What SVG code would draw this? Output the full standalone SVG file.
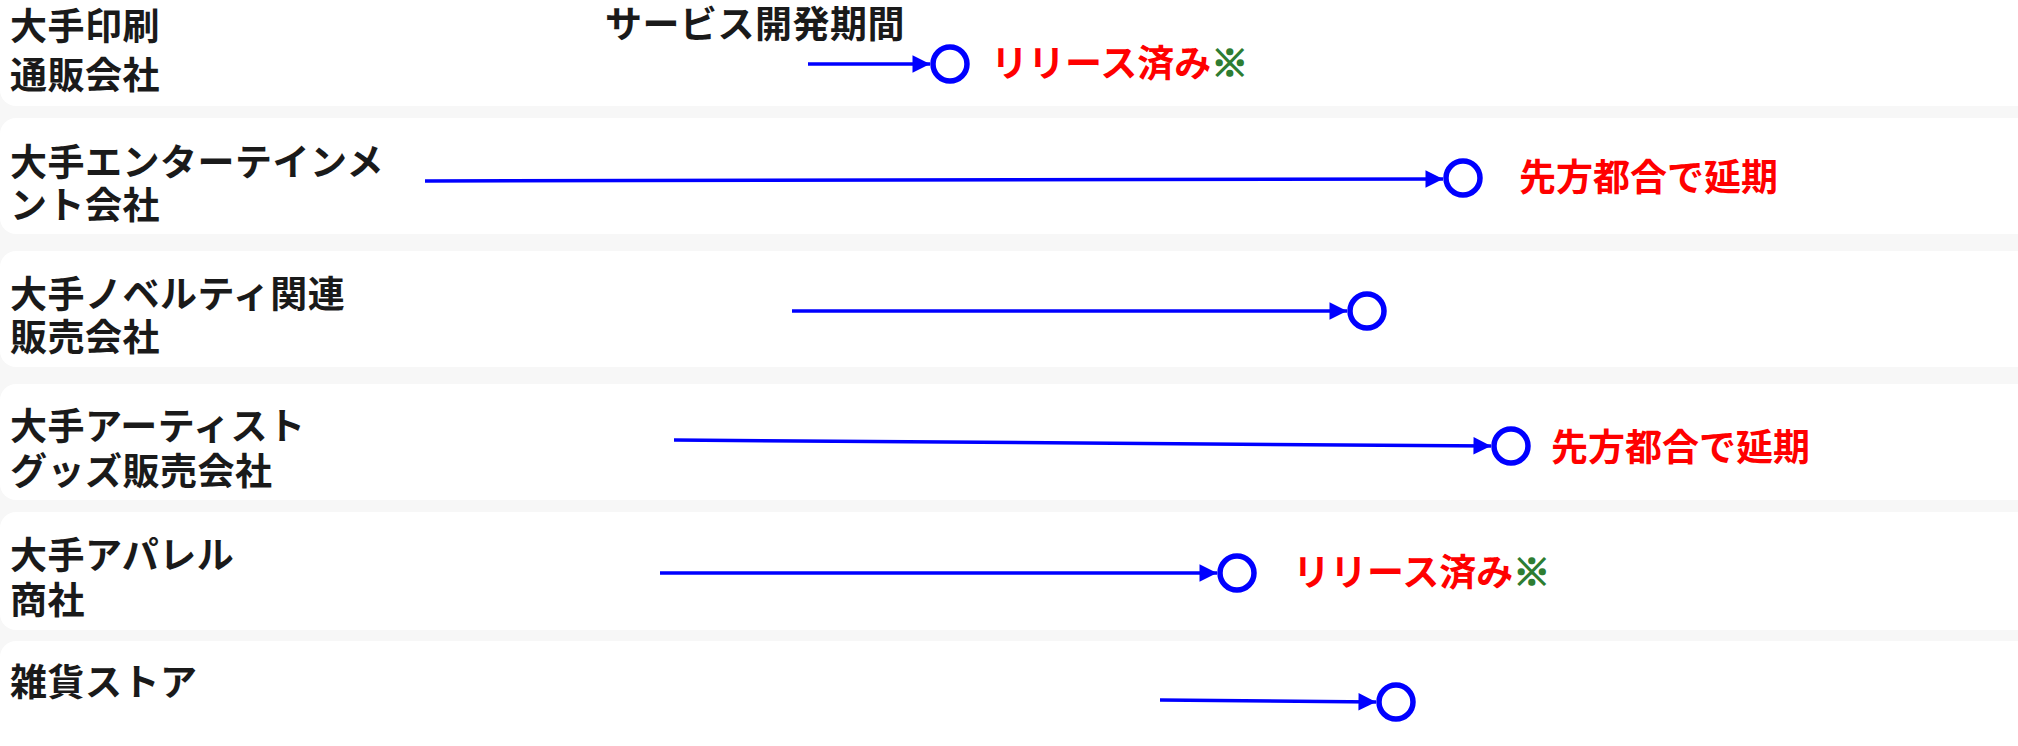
<svg xmlns="http://www.w3.org/2000/svg" width="2018" height="746" viewBox="0 0 2018 746">
<style>
.row{fill:#ffffff}
.lbl{font-family:"Noto Sans CJK JP","Noto Sans",sans-serif;font-weight:bold;font-size:37px;fill:#1a1a1a;letter-spacing:0.5px}
.red{font-family:"Noto Sans CJK JP","Noto Sans",sans-serif;font-weight:bold;font-size:37px;fill:#ff0000}
.grn{fill:#2e7d32;stroke:#2e7d32;stroke-width:1.6}
.ln{stroke:#0000ff;stroke-width:3.5;fill:none}
.ms{stroke:#0000ff;stroke-width:5.5;fill:#ffffff}
</style>
<defs>
<marker id="ah" viewBox="0 0 10 10" refX="10" refY="5" markerWidth="5.5" markerHeight="5" markerUnits="strokeWidth" orient="auto">
<path d="M0,0 L10,5 L0,10 z" fill="#0000ff"/>
</marker>
</defs>
<rect x="0" y="0" width="2018" height="746" fill="#f7f7f7"/>
<g id="row1"><rect class="row" x="0" y="-20" width="2040" height="126" rx="16"/>
<text class="lbl" x="10" y="40">大手印刷</text><text class="lbl" x="10" y="89">通販会社</text></g>
<g id="row2"><rect class="row" x="0" y="118" width="2040" height="116" rx="16"/>
<text class="lbl" x="10" y="176">大手エンターテインメ</text><text class="lbl" x="10" y="219">ント会社</text></g>
<g id="row3"><rect class="row" x="0" y="251" width="2040" height="116" rx="16"/>
<text class="lbl" x="10" y="308">大手ノベルティ関連</text><text class="lbl" x="10" y="351">販売会社</text></g>
<g id="row4"><rect class="row" x="0" y="384" width="2040" height="116" rx="16"/>
<text class="lbl" x="10" y="440">大手アーティスト</text><text class="lbl" x="10" y="485">グッズ販売会社</text></g>
<g id="row5"><rect class="row" x="0" y="512" width="2040" height="118" rx="16"/>
<text class="lbl" x="10" y="569">大手アパレル</text><text class="lbl" x="10" y="614">商社</text></g>
<g id="row6"><rect class="row" x="0" y="641" width="2040" height="125" rx="16"/>
<text class="lbl" x="10" y="696">雑貨ストア</text></g>
<g id="header"><text class="lbl" x="605" y="38">サービス開発期間</text></g>
<g id="connectors">
<line class="ln" x1="808" y1="64" x2="930" y2="64" marker-end="url(#ah)"/>
<line class="ln" x1="425" y1="181" x2="1443" y2="179" marker-end="url(#ah)"/>
<line class="ln" x1="792" y1="311" x2="1347" y2="311" marker-end="url(#ah)"/>
<line class="ln" x1="674" y1="440" x2="1491" y2="446" marker-end="url(#ah)"/>
<line class="ln" x1="660" y1="573" x2="1217" y2="573" marker-end="url(#ah)"/>
<line class="ln" x1="1160" y1="700" x2="1376" y2="702" marker-end="url(#ah)"/>
</g>
<g id="m1"><circle class="ms" cx="950" cy="64" r="17"/><text class="red" x="991" y="77">リリース済み<tspan class="grn">※</tspan></text></g>
<g id="m2"><circle class="ms" cx="1463" cy="178" r="17"/><text class="red" x="1519" y="191">先方都合で延期</text></g>
<g id="m3"><circle class="ms" cx="1367" cy="311" r="17"/></g>
<g id="m4"><circle class="ms" cx="1511" cy="446" r="17"/><text class="red" x="1551" y="461">先方都合で延期</text></g>
<g id="m5"><circle class="ms" cx="1237" cy="573" r="17"/><text class="red" x="1293" y="586">リリース済み<tspan class="grn">※</tspan></text></g>
<g id="m6"><circle class="ms" cx="1396" cy="702" r="17"/></g>
</svg>
